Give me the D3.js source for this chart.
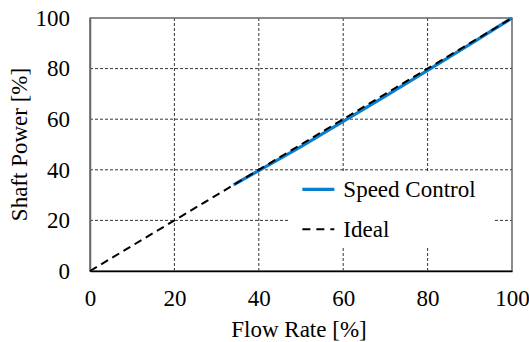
<!DOCTYPE html>
<html>
<head>
<meta charset="utf-8">
<script src="https://cdn.jsdelivr.net/npm/d3@7"></script>
<style>
  body { margin: 0; background: #fff; }
</style>
</head>
<body>
<div class="canvas"></div>
<script>
// data
const flowRate = [34, 40, 50, 60, 70, 80, 90, 100];
const speedPower = [34, 39.7, 49.2, 59.1, 69.1, 79.3, 89.6, 100];
const idealFlow = [0, 100];
const idealPower = [0, 100];
const xTicks = [0, 20, 40, 60, 80, 100];
const yTicks = [0, 20, 40, 60, 80, 100];

const font = 'Liberation Serif';
const fontSize = 23;

const svg = d3.select('.canvas')
  .append('svg')
  .attr('width', 529)
  .attr('height', 342);

const margin = { top: 18, right: 17, bottom: 71, left: 90 };
const graphWidth = 529 - margin.left - margin.right;
const graphHeight = 342 - margin.top - margin.bottom;

const graph = svg.append('g')
  .attr('transform', `translate(${margin.left},${margin.top})`);

// scales
const x = d3.scaleLinear().domain([0, 100]).range([0, graphWidth]);
const y = d3.scaleLinear().domain([0, 100]).range([graphHeight, 0]);

// grid
graph.append('g')
  .selectAll('line')
  .data(xTicks.slice(1, -1))
  .join('line')
  .attr('x1', d => x(d)).attr('x2', d => x(d))
  .attr('y1', 0).attr('y2', graphHeight)
  .attr('stroke', '#000').attr('stroke-width', 0.8)
  .attr('stroke-dasharray', '3,2');

graph.append('g')
  .selectAll('line')
  .data(yTicks.slice(1, -1))
  .join('line')
  .attr('y1', d => y(d)).attr('y2', d => y(d))
  .attr('x1', 0).attr('x2', graphWidth)
  .attr('stroke', '#000').attr('stroke-width', 0.8)
  .attr('stroke-dasharray', '3,2');

// frame
graph.append('rect')
  .attr('width', graphWidth).attr('height', graphHeight)
  .attr('fill', 'none').attr('stroke', '#666').attr('stroke-width', 1.5);

// axes
const xAxis = d3.axisBottom(x).tickValues(xTicks).tickSize(0).tickPadding(19);
const yAxis = d3.axisLeft(y).tickValues(yTicks).tickSize(0).tickPadding(20);

const xAxisGroup = graph.append('g')
  .attr('transform', `translate(0,${graphHeight})`)
  .call(xAxis)
  .attr('font-family', font).attr('font-size', fontSize);
const yAxisGroup = graph.append('g')
  .call(yAxis)
  .attr('font-family', font).attr('font-size', fontSize);

xAxisGroup.select('.domain').attr('stroke', '#000').attr('stroke-width', 1.5);
yAxisGroup.select('.domain').attr('stroke', '#666').attr('stroke-width', 1.5);
[xAxisGroup, yAxisGroup].forEach(g => g.selectAll('text').attr('fill', '#000'));

// legend box (covers grid)
const legend = graph.append('g')
  .attr('transform', `translate(${x(47)},${y(39)})`);
legend.append('rect')
  .attr('x', 0).attr('y', 0)
  .attr('width', 205).attr('height', 75)
  .attr('fill', '#fff');

// lines
const line = d3.line()
  .x(d => x(d[0]))
  .y(d => y(d[1]));

graph.append('path')
  .datum(d3.zip(flowRate, speedPower))
  .attr('d', line)
  .attr('fill', 'none')
  .attr('stroke', '#0a7fcf')
  .attr('stroke-width', 3.2);

graph.append('path')
  .datum(d3.zip(idealFlow, idealPower))
  .attr('d', line)
  .attr('fill', 'none')
  .attr('stroke', '#000')
  .attr('stroke-width', 2)
  .attr('stroke-dasharray', '8,5');

// legend items
legend.append('line')
  .attr('x1', 14).attr('x2', 46).attr('y1', 17).attr('y2', 17)
  .attr('stroke', '#0a7fcf').attr('stroke-width', 3.2);
legend.append('text')
  .attr('x', 55).attr('y', 17).attr('dy', '0.35em')
  .attr('font-family', font).attr('font-size', fontSize)
  .text('Speed Control');
legend.append('line')
  .attr('x1', 14).attr('x2', 46).attr('y1', 57).attr('y2', 57)
  .attr('stroke', '#000').attr('stroke-width', 2)
  .attr('stroke-dasharray', '8,6');
legend.append('text')
  .attr('x', 55).attr('y', 57).attr('dy', '0.35em')
  .attr('font-family', font).attr('font-size', fontSize)
  .text('Ideal');

// axis titles
svg.append('text')
  .attr('x', margin.left + graphWidth / 2 - 2)
  .attr('y', 337)
  .attr('text-anchor', 'middle')
  .attr('font-family', font).attr('font-size', fontSize)
  .text('Flow Rate [%]');

svg.append('text')
  .attr('transform', `translate(27,${margin.top + graphHeight / 2}) rotate(-90)`)
  .attr('text-anchor', 'middle')
  .attr('font-family', font).attr('font-size', fontSize)
  .text('Shaft Power [%]');
</script>
</body>
</html>
